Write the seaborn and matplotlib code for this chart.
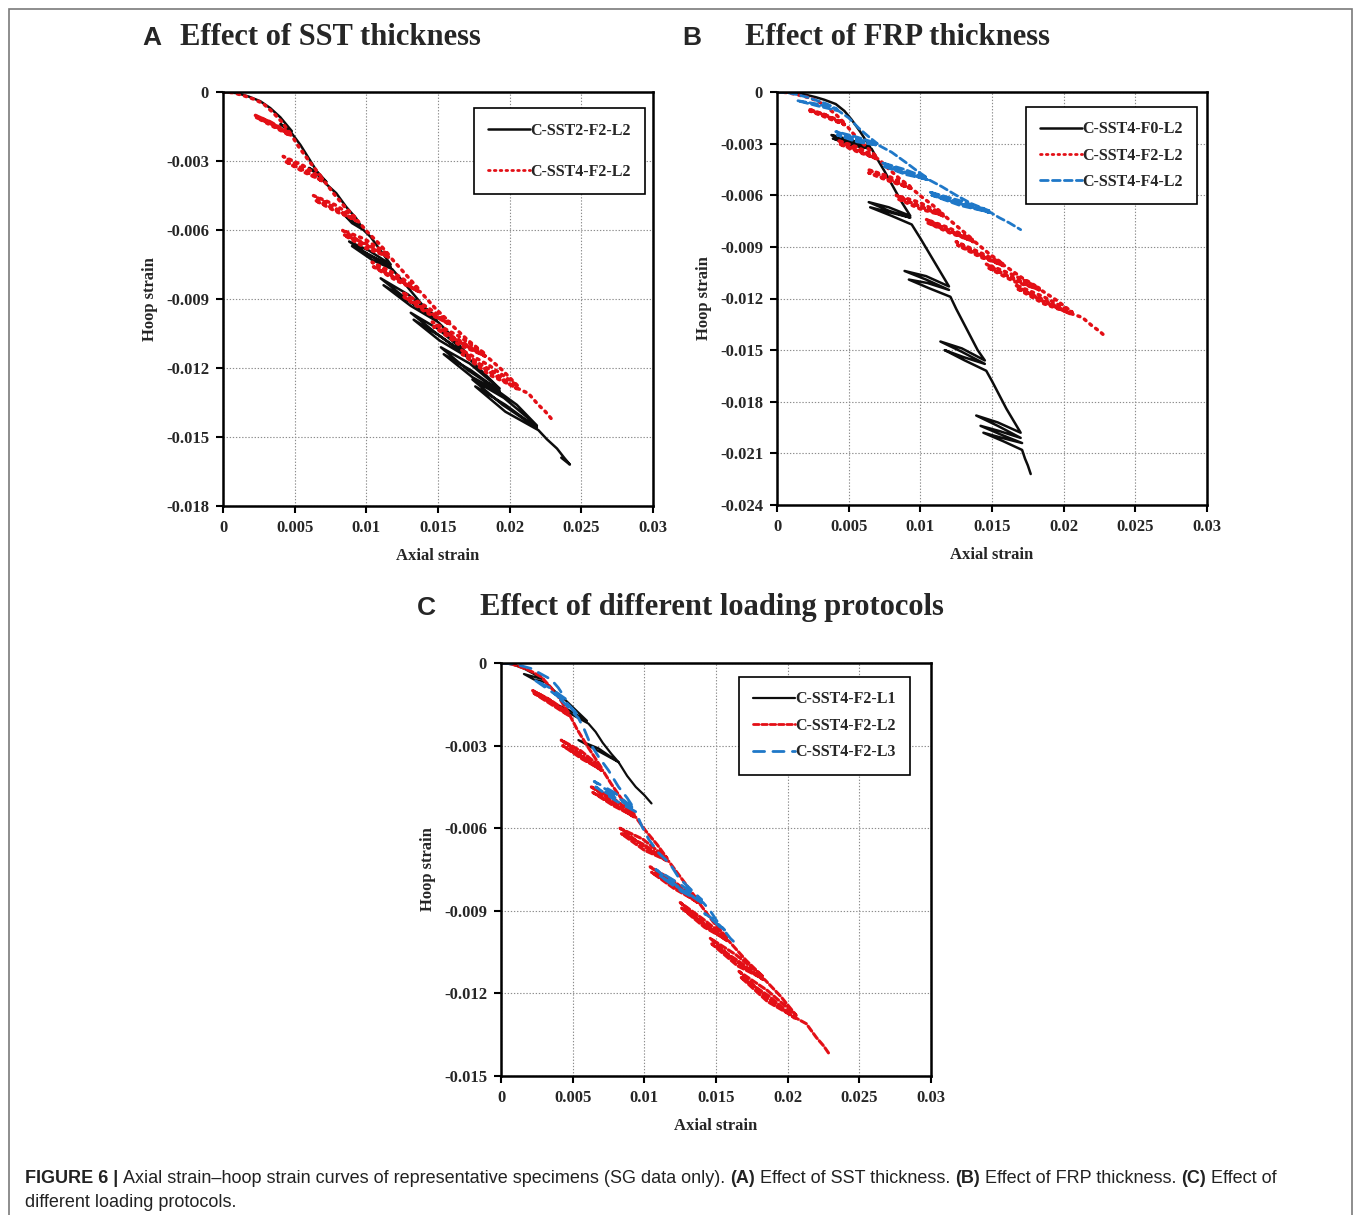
import matplotlib
matplotlib.use("Agg")
import matplotlib.pyplot as plt
import seaborn as sns
import pandas as pd
from matplotlib.lines import Line2D
from matplotlib.patches import Rectangle

# ---------------------------------------------------------------- data
# Each specimen is one continuous recorded path (axial strain, hoop strain),
# including its unloading / reloading cycles.

sst2_f2_l2 = [
    (0, 0), (0.0010, -0.00005), (0.0018, -0.0002), (0.0026, -0.0004), (0.0033, -0.0007),
    (0.0040, -0.0011), (0.0048, -0.0017),
    (0.0044, -0.0016), (0.0040, -0.0014), (0.0044, -0.0015), (0.0048, -0.0018),
    (0.0054, -0.0023), (0.0060, -0.0029), (0.0066, -0.0035), (0.0072, -0.0039),
    (0.0066, -0.0035), (0.0060, -0.0033), (0.0066, -0.0036), (0.0072, -0.0040),
    (0.0079, -0.0044), (0.0086, -0.0050), (0.0093, -0.0055), (0.0097, -0.0059),
    (0.0090, -0.0056), (0.0084, -0.0053), (0.0090, -0.0057), (0.0098, -0.0060),
    (0.0103, -0.0063), (0.0110, -0.0069), (0.0117, -0.0075),
    (0.0102, -0.0069), (0.0088, -0.0065), (0.0102, -0.0071), (0.0117, -0.0076),
    (0.0103, -0.0071), (0.0090, -0.0067), (0.0104, -0.0073), (0.0118, -0.0077),
    (0.0125, -0.0082), (0.0133, -0.0088), (0.0141, -0.0094), (0.0149, -0.0098),
    (0.0129, -0.0088), (0.0110, -0.0081), (0.0128, -0.0090), (0.0149, -0.0099),
    (0.0130, -0.0091), (0.0112, -0.0084), (0.0131, -0.0093), (0.0150, -0.0100),
    (0.0158, -0.0105), (0.0169, -0.0113),
    (0.0150, -0.0103), (0.0131, -0.0096), (0.0149, -0.0105), (0.0169, -0.0114),
    (0.0151, -0.0106), (0.0133, -0.0099), (0.0151, -0.0108), (0.0170, -0.0115),
    (0.0180, -0.0121), (0.0193, -0.0129),
    (0.0172, -0.0118), (0.0152, -0.0111), (0.0171, -0.0121), (0.0193, -0.0130),
    (0.0173, -0.0121), (0.0154, -0.0114), (0.0174, -0.0124), (0.0194, -0.0131),
    (0.0205, -0.0136), (0.0219, -0.0145),
    (0.0196, -0.0133), (0.0174, -0.0125), (0.0195, -0.0136), (0.0219, -0.0146),
    (0.0197, -0.0136), (0.0176, -0.0128), (0.0197, -0.0139), (0.0220, -0.0147),
    (0.0226, -0.0151), (0.0233, -0.0155), (0.0238, -0.0159), (0.0242, -0.0162),
    (0.0236, -0.0159),
]

sst4_f2_l2 = [
    (0, 0), (0.0007, -0.00003), (0.0014, -0.00015), (0.0021, -0.0003), (0.0028, -0.0005),
    (0.0035, -0.0009), (0.0041, -0.0013), (0.0047, -0.0018),
    (0.0036, -0.0014), (0.0022, -0.0010), (0.0033, -0.0013), (0.0047, -0.0019),
    (0.0035, -0.0015), (0.0023, -0.0011), (0.0034, -0.0014), (0.0048, -0.0019),
    (0.0053, -0.0024), (0.0060, -0.0030), (0.0065, -0.0034), (0.0070, -0.0038),
    (0.0056, -0.0032), (0.0042, -0.0028), (0.0055, -0.0033), (0.0070, -0.0039),
    (0.0056, -0.0034), (0.0043, -0.0030), (0.0057, -0.0035), (0.0071, -0.0039),
    (0.0077, -0.0044), (0.0085, -0.0050), (0.0093, -0.0055),
    (0.0078, -0.0049), (0.0063, -0.0045), (0.0077, -0.0050), (0.0093, -0.0056),
    (0.0078, -0.0051), (0.0064, -0.0047), (0.0079, -0.0052), (0.0094, -0.0056),
    (0.0101, -0.0061), (0.0109, -0.0066), (0.0116, -0.0071),
    (0.0099, -0.0064), (0.0083, -0.0060), (0.0098, -0.0066), (0.0116, -0.0072),
    (0.0100, -0.0066), (0.0084, -0.0062), (0.0100, -0.0068), (0.0117, -0.0072),
    (0.0127, -0.0079), (0.0137, -0.0086),
    (0.0120, -0.0079), (0.0104, -0.0074), (0.0119, -0.0080), (0.0137, -0.0087),
    (0.0121, -0.0081), (0.0105, -0.0076), (0.0121, -0.0082), (0.0138, -0.0087),
    (0.0148, -0.0094), (0.0158, -0.0100),
    (0.0141, -0.0093), (0.0125, -0.0087), (0.0140, -0.0094), (0.0158, -0.0101),
    (0.0142, -0.0095), (0.0126, -0.0089), (0.0142, -0.0096), (0.0159, -0.0101),
    (0.0171, -0.0108), (0.0183, -0.0114),
    (0.0164, -0.0106), (0.0146, -0.0100), (0.0163, -0.0108), (0.0183, -0.0115),
    (0.0165, -0.0108), (0.0147, -0.0102), (0.0165, -0.0110), (0.0184, -0.0115),
    (0.0195, -0.0121), (0.0206, -0.0128),
    (0.0186, -0.0119), (0.0166, -0.0112), (0.0184, -0.0121), (0.0205, -0.0129),
    (0.0187, -0.0121), (0.0167, -0.0114), (0.0186, -0.0123), (0.0206, -0.0129),
    (0.0213, -0.0131), (0.0220, -0.0136), (0.0225, -0.0139), (0.0229, -0.0142),
]

sst4_f0_l2 = [
    (0, 0), (0.0012, -0.00003), (0.0019, -0.00014), (0.0027, -0.0003), (0.0033, -0.00045),
    (0.0041, -0.0007), (0.0047, -0.0011), (0.0052, -0.0016), (0.0058, -0.0023), (0.0065, -0.0032),
    (0.0052, -0.0028), (0.0038, -0.0025), (0.0051, -0.0029), (0.0065, -0.0033),
    (0.0051, -0.0030), (0.0039, -0.0027), (0.0052, -0.0031), (0.0066, -0.0033),
    (0.0070, -0.0039), (0.0075, -0.0046), (0.0081, -0.0055), (0.0087, -0.0064), (0.0093, -0.0072),
    (0.0078, -0.0067), (0.0064, -0.0064), (0.0078, -0.0069), (0.0093, -0.0073),
    (0.0079, -0.0070), (0.0065, -0.0067), (0.0080, -0.0072), (0.0094, -0.0077),
    (0.0100, -0.0085), (0.0105, -0.0092), (0.0110, -0.0099), (0.0115, -0.0106), (0.0120, -0.0113),
    (0.0104, -0.0107), (0.0089, -0.0104), (0.0104, -0.0109), (0.0120, -0.0115),
    (0.0105, -0.0111), (0.0092, -0.0109), (0.0106, -0.0114), (0.0121, -0.0119),
    (0.0125, -0.0126), (0.0130, -0.0134), (0.0135, -0.0142), (0.0140, -0.0150), (0.0145, -0.0156),
    (0.0129, -0.0149), (0.0114, -0.0145), (0.0129, -0.0151), (0.0145, -0.0158),
    (0.0130, -0.0154), (0.0117, -0.0150), (0.0131, -0.0156), (0.0146, -0.0162),
    (0.0150, -0.0168), (0.0155, -0.0176), (0.0160, -0.0184), (0.0165, -0.0191), (0.0170, -0.0198),
    (0.0154, -0.0192), (0.0139, -0.0188), (0.0154, -0.0194), (0.0170, -0.0201),
    (0.0155, -0.0197), (0.0142, -0.0194), (0.0156, -0.0199), (0.0171, -0.0204),
    (0.0157, -0.0201), (0.0144, -0.0198), (0.0158, -0.0203), (0.0171, -0.0208),
    (0.0173, -0.0213), (0.0175, -0.0217), (0.0177, -0.0222),
]

sst4_f4_l2 = [
    (0, 0), (0.0008, -0.00005), (0.0014, -0.00015), (0.0021, -0.0003), (0.0028, -0.0005),
    (0.0035, -0.0007), (0.0042, -0.0010),
    (0.0028, -0.0007), (0.0014, -0.0005), (0.0028, -0.0008), (0.0043, -0.0011),
    (0.0050, -0.0015), (0.0057, -0.0021), (0.0064, -0.0026), (0.0070, -0.0030),
    (0.0055, -0.0026), (0.0041, -0.0023), (0.0055, -0.0027), (0.0070, -0.0031),
    (0.0056, -0.0028), (0.0042, -0.0025), (0.0056, -0.0029), (0.0071, -0.0031),
    (0.0080, -0.0035), (0.0090, -0.0041), (0.0098, -0.0046), (0.0105, -0.0050),
    (0.0089, -0.0045), (0.0073, -0.0041), (0.0088, -0.0046), (0.0105, -0.0051),
    (0.0089, -0.0047), (0.0074, -0.0043), (0.0090, -0.0048), (0.0106, -0.0051),
    (0.0115, -0.0055), (0.0125, -0.0060), (0.0136, -0.0065), (0.0148, -0.0069),
    (0.0127, -0.0063), (0.0106, -0.0058), (0.0126, -0.0064), (0.0148, -0.0070),
    (0.0128, -0.0065), (0.0108, -0.0060), (0.0128, -0.0066), (0.0149, -0.0070),
    (0.0155, -0.0073), (0.0162, -0.0076), (0.0170, -0.0080),
]

sst4_f2_l1 = [
    (0, 0), (0.0008, -0.00005), (0.0016, -0.0002), (0.0023, -0.0004), (0.0030, -0.0006),
    (0.0023, -0.0005), (0.0016, -0.0004), (0.0023, -0.0006), (0.0031, -0.0007),
    (0.0037, -0.0010), (0.0044, -0.0013), (0.0052, -0.0017), (0.0060, -0.0021),
    (0.0047, -0.0017), (0.0034, -0.0014), (0.0047, -0.0018), (0.0061, -0.0022),
    (0.0066, -0.0025), (0.0071, -0.0029), (0.0077, -0.0033), (0.0082, -0.0036),
    (0.0068, -0.0031), (0.0054, -0.0028), (0.0068, -0.0032), (0.0082, -0.0036),
    (0.0088, -0.0041), (0.0094, -0.0045), (0.0100, -0.0048), (0.0105, -0.0051),
]

sst4_f2_l3 = [
    (0, 0), (0.0007, -0.00003), (0.0014, -0.0001), (0.0021, -0.0002), (0.0028, -0.0004),
    (0.0035, -0.0006), (0.0040, -0.0009), (0.0045, -0.0013),
    (0.0034, -0.0009), (0.0023, -0.0006), (0.0034, -0.0010), (0.0045, -0.0014),
    (0.0050, -0.0017), (0.0054, -0.0019),
    (0.0045, -0.0014), (0.0037, -0.0011), (0.0045, -0.0015), (0.0054, -0.0020),
    (0.0058, -0.0024), (0.0062, -0.0029), (0.0068, -0.0034), (0.0075, -0.0039),
    (0.0082, -0.0045), (0.0088, -0.0049), (0.0093, -0.0053),
    (0.0079, -0.0047), (0.0065, -0.0043), (0.0079, -0.0048), (0.0093, -0.0053),
    (0.0080, -0.0049), (0.0066, -0.0045), (0.0080, -0.0050), (0.0094, -0.0054),
    (0.0098, -0.0059), (0.0103, -0.0064), (0.0110, -0.0069), (0.0118, -0.0073),
    (0.0124, -0.0078), (0.0132, -0.0082), (0.0140, -0.0086),
    (0.0124, -0.0080), (0.0108, -0.0075), (0.0123, -0.0081), (0.0140, -0.0087),
    (0.0125, -0.0082), (0.0110, -0.0077), (0.0126, -0.0083), (0.0141, -0.0087),
    (0.0146, -0.0090), (0.0151, -0.0094), (0.0156, -0.0097),
    (0.0148, -0.0093), (0.0142, -0.0091), (0.0149, -0.0094), (0.0157, -0.0098),
    (0.0160, -0.0100), (0.0164, -0.0102),
]

x_ticks = [0, 0.005, 0.01, 0.015, 0.02, 0.025, 0.03]
x_tick_labels = ["0", "0.005", "0.01", "0.015", "0.02", "0.025", "0.03"]
y_ticks_a = [0, -0.003, -0.006, -0.009, -0.012, -0.015, -0.018]
y_labels_a = ["0", "-0.003", "-0.006", "-0.009", "-0.012", "-0.015", "-0.018"]
y_ticks_b = [0, -0.003, -0.006, -0.009, -0.012, -0.015, -0.018, -0.021, -0.024]
y_labels_b = ["0", "-0.003", "-0.006", "-0.009", "-0.012", "-0.015", "-0.018", "-0.021", "-0.024"]
y_ticks_c = [0, -0.003, -0.006, -0.009, -0.012, -0.015]
y_labels_c = ["0", "-0.003", "-0.006", "-0.009", "-0.012", "-0.015"]

panel_titles = ["Effect of SST thickness", "Effect of FRP thickness", "Effect of different loading protocols"]
panel_letters = ["A", "B", "C"]

# ---------------------------------------------------------------- style
sns.set_theme(style="white")
SERIF = ["Liberation Serif", "DejaVu Serif"]
SANS = ["Liberation Sans", "DejaVu Sans"]
plt.rcParams["font.family"] = SERIF
plt.rcParams["axes.unicode_minus"] = False

BLACK = "#0d0d0d"
RED = "#e30f16"
BLUE = "#1f78c8"

W, H = 1355, 1215
fig = plt.figure(figsize=(W / 100, H / 100), dpi=100)


def frac_box(left, top, right, bottom):
    return [left / W, 1 - bottom / H, (right - left) / W, (bottom - top) / H]


def draw_panel(rect, series, yticks, ylabels, legend_anchor, legend_spacing):
    ax = fig.add_axes(rect)
    handles = []
    for label, pts, color, dash, lw in series:
        df = pd.DataFrame(pts, columns=["axial", "hoop"])
        sns.lineplot(data=df, x="axial", y="hoop", sort=False, estimator=None,
                     color=color, linewidth=lw, ax=ax, legend=False)
        line = ax.lines[-1]
        line.set_linestyle(dash)
        if dash != "-":
            line.set_dash_capstyle("round")
        handles.append(Line2D([], [], color=color, linewidth=min(lw, 2.0), linestyle=dash,
                              dash_capstyle="round" if dash != "-" else "butt", label=label))
    ax.set_xlim(0, 0.03)
    ax.set_ylim(yticks[-1], 0)
    ax.set_xticks(x_ticks)
    ax.set_xticklabels(x_tick_labels, fontweight="bold", fontsize=12)
    ax.set_yticks(yticks)
    ax.set_yticklabels(ylabels, fontweight="bold", fontsize=12)
    ax.grid(True, color="#8c8c8c", linestyle=(0, (1.2, 1.6)), linewidth=0.8)
    ax.set_axisbelow(True)
    for sp in ax.spines.values():
        sp.set_color("black")
        sp.set_linewidth(1.8)
    ax.tick_params(axis="both", direction="out", length=5, width=1.5, color="black",
                   pad=5, bottom=True, left=True)
    ax.set_xlabel("Axial strain", fontweight="bold", fontsize=12, labelpad=9)
    ax.set_ylabel("Hoop strain", fontweight="bold", fontsize=12, labelpad=6)
    leg = ax.legend(handles=handles, loc="upper right", bbox_to_anchor=legend_anchor,
                    frameon=True, fancybox=False, framealpha=1, edgecolor="black",
                    prop={"weight": "bold", "size": 11.5, "family": SERIF},
                    handlelength=2.6, handletextpad=0.0, labelspacing=legend_spacing,
                    borderpad=0.9, borderaxespad=0)
    leg.get_frame().set_linewidth(1.2)
    return ax


draw_panel(frac_box(223, 92, 653, 506),
           [("C-SST2-F2-L2", sst2_f2_l2, BLACK, "-", 1.8),
            ("C-SST4-F2-L2", sst4_f2_l2, RED, (0, (0.6, 1.5)), 2.5)],
           y_ticks_a, y_labels_a, (0.981, 0.961), 1.6)

draw_panel(frac_box(777, 92, 1207, 505),
           [("C-SST4-F0-L2", sst4_f0_l2, BLACK, "-", 1.8),
            ("C-SST4-F2-L2", sst4_f2_l2, RED, (0, (0.6, 1.5)), 2.5),
            ("C-SST4-F4-L2", sst4_f4_l2, BLUE, (0, (2.8, 1.5)), 2.0)],
           y_ticks_b, y_labels_b, (0.976, 0.964), 0.65)

draw_panel(frac_box(501, 663, 931, 1076),
           [("C-SST4-F2-L1", sst4_f2_l1, BLACK, "-", 1.6),
            ("C-SST4-F2-L2", sst4_f2_l2, RED, (0, (2.0, 1.0)), 2.2),
            ("C-SST4-F2-L3", sst4_f2_l3, BLUE, (0, (4.0, 3.0)), 2.0)],
           y_ticks_c, y_labels_c, (0.951, 0.966), 0.65)

# panel headings
heading_pos = [((152, 45), (180, 45)), ((692, 45), (745, 45)), ((426, 615), (480, 615))]
for letter, title, ((lx, ly), (tx, ty)) in zip(panel_letters, panel_titles, heading_pos):
    fig.text(lx / W, 1 - ly / H, letter, family=SANS, fontweight="bold", fontsize=19,
             ha="center", va="baseline")
    fig.text(tx / W, 1 - ty / H, title, family=SERIF, fontweight="bold", fontsize=22,
             ha="left", va="baseline")

# caption with mixed weights
renderer = fig.canvas.get_renderer()
CAP_SIZE = 13
space_px = CAP_SIZE * 100 / 72 * 0.278


def caption_line(x_px, y_px, runs):
    x = x_px
    for s, weight in runs:
        t = fig.text(x / W, 1 - y_px / H, s, family=SANS, fontweight=weight,
                     fontsize=CAP_SIZE, ha="left", va="baseline", color="#222222")
        x += t.get_window_extent(renderer).width + space_px


caption_line(25, 1183, [
    ("FIGURE 6 |", "bold"),
    ("Axial strain\u2013hoop strain curves of representative specimens (SG data only).", "normal"),
    ("(A)", "bold"), ("Effect of SST thickness.", "normal"),
    ("(B)", "bold"), ("Effect of FRP thickness.", "normal"),
    ("(C)", "bold"), ("Effect of", "normal"),
])
caption_line(25, 1207, [("different loading protocols.", "normal")])

# outer frame
fig.add_artist(Rectangle((9 / W, -0.02), (1352 - 9) / W, 1 - 9 / H + 0.02,
                         transform=fig.transFigure, fill=False, edgecolor="#7a7a7a",
                         linewidth=1.2))

fig.savefig("out.png", dpi=100)
